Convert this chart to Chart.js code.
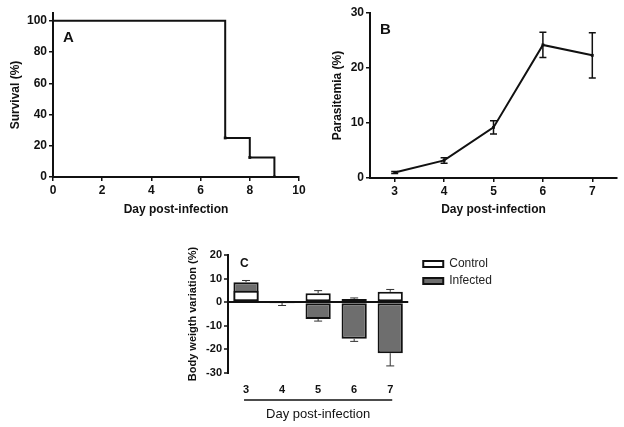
<!DOCTYPE html>
<html lang="en">
<head>
    <meta charset="UTF-8">
    <title>Survival, parasitemia and body weight</title>
    <script src="https://cdn.jsdelivr.net/npm/chart.js@4.4.1/dist/chart.umd.min.js"></script>
    <style>
        body {
            margin: 0;
            background: #ffffff;
            width: 624px;
            height: 427px;
            position: relative;
            overflow: hidden;
        }
        .panel {
            position: absolute;
        }
    </style>
</head>
<body>
    <div class="panel" style="left:0;top:0;width:312px;height:220px;"><canvas id="survivalChart"></canvas></div>
    <div class="panel" style="left:312px;top:0;width:312px;height:220px;"><canvas id="parasitemiaChart"></canvas></div>
    <div class="panel" style="left:160px;top:240px;width:340px;height:187px;"><canvas id="weightChart"></canvas></div>

    <script>
        // Panel A: survival curve
        const survivalDays = [0, 7, 8, 9];
        const survivalPct = [100, 25, 12.5, 0];
        const survivalTicks = [0, 20, 40, 60, 80, 100];

        // Panel B: parasitemia (mean, SEM)
        const parasDays = [3, 4, 5, 6, 7];
        const parasMean = [1.0, 3.2, 9.2, 24.2, 22.3];
        const parasErr = [0.2, 0.5, 1.2, 2.3, 4.1];

        // Panel C: body weight variation
        const weightDays = ['3', '4', '5', '6', '7'];
        const controlMean = [4.9, 0, 3.8, 1.4, 4.4];
        const controlErr = [0, 0, 1.1, 0.4, 1.0];
        const infectedMean = [8.5, -0.3, -7.1, -15.5, -21.6];
        const infectedErr = [0.7, 1.1, 0.9, 1.1, 5.4];

        const FONT = "'Liberation Sans', Arial, sans-serif";
        Chart.defaults.font.family = FONT;
        Chart.defaults.color = '#111';
        Chart.defaults.animation = false;

        const panelLabel = {
            id: 'panelLabel',
            afterDraw(chart, args, opts) {
                const { ctx, chartArea } = chart;
                ctx.save();
                ctx.font = 'bold ' + opts.size + 'px ' + FONT;
                ctx.fillStyle = '#111';
                ctx.textAlign = 'left';
                ctx.textBaseline = 'middle';
                ctx.fillText(opts.text, chartArea.left + opts.dx, chartArea.top + opts.dy);
                ctx.restore();
            }
        };

        const errorBars = {
            id: 'errorBars',
            afterDatasetsDraw(chart, args, opts) {
                const ctx = chart.ctx;
                const yScale = chart.scales.y;
                chart.data.datasets.forEach((ds, i) => {
                    if (!ds.errors) return;
                    const meta = chart.getDatasetMeta(i);
                    ctx.save();
                    ctx.strokeStyle = opts.color;
                    ctx.lineWidth = opts.width;
                    meta.data.forEach((el, j) => {
                        const raw = ds.data[j];
                        const v = typeof raw === 'object' ? raw.y : raw;
                        const e = ds.errors[j];
                        if (!e) return;
                        let ends;
                        if (opts.mode === 'away') {
                            ends = [v + (v < 0 ? -e : e)];
                        } else {
                            ends = [v + e, v - e];
                        }
                        const y0 = yScale.getPixelForValue(v);
                        ends.forEach(end => {
                            const y1 = yScale.getPixelForValue(end);
                            ctx.beginPath();
                            ctx.moveTo(el.x, y0);
                            ctx.lineTo(el.x, y1);
                            ctx.moveTo(el.x - opts.cap, y1);
                            ctx.lineTo(el.x + opts.cap, y1);
                            ctx.stroke();
                        });
                    });
                    ctx.restore();
                });
            }
        };

        const axisUnderline = {
            id: 'axisUnderline',
            afterDraw(chart, args, opts) {
                const x = chart.scales.x;
                const { ctx, chartArea } = chart;
                const y = chartArea.bottom + opts.gap;
                ctx.save();
                ctx.strokeStyle = '#111';
                ctx.lineWidth = 1.5;
                ctx.beginPath();
                ctx.moveTo(x.getPixelForValue(0) - 2, y);
                ctx.lineTo(x.getPixelForValue(weightDays.length - 1) + 2, y);
                ctx.stroke();
                ctx.restore();
            }
        };

        const legendNudge = {
            id: 'legendNudge',
            afterLayout(chart, args, opts) {
                const lg = chart.legend;
                if (!lg) return;
                lg.left += opts.dx; lg.right += opts.dx;
                lg.top += opts.dy; lg.bottom += opts.dy;
            }
        };

        function prismAxis(extra) {
            return Object.assign({
                border: { display: true, color: '#111', width: 2 },
                grid: { drawOnChartArea: false, color: '#111', tickColor: '#111', tickLength: 4, lineWidth: 1.5 },
                ticks: { color: '#111', padding: 2, font: { size: 12, weight: 'bold' } }
            }, extra);
        }

        // Panel A
        new Chart(document.getElementById('survivalChart'), {
            type: 'line',
            data: {
                datasets: [{
                    data: survivalDays.map((d, i) => ({ x: d, y: survivalPct[i] })),
                    borderColor: '#111',
                    borderWidth: 2,
                    stepped: true,
                    pointStyle: 'rect',
                    pointRadius: survivalDays.map((d, i) => i === 0 ? 0 : 2),
                    pointBackgroundColor: '#111',
                    pointBorderWidth: 0
                }]
            },
            options: {
                responsive: true,
                maintainAspectRatio: false,
                layout: { padding: { top: 13, right: 13, left: 0, bottom: 0 } },
                plugins: {
                    legend: { display: false },
                    tooltip: { enabled: false },
                    panelLabel: { text: 'A', dx: 10, dy: 25, size: 15 }
                },
                scales: {
                    x: prismAxis({
                        type: 'linear', min: 0, max: 10,
                        ticks: { stepSize: 2, color: '#111', padding: 2, font: { size: 12, weight: 'bold' } },
                        title: { display: true, text: 'Day post-infection', color: '#111', padding: { top: 0, bottom: 3 }, font: { size: 12, weight: 'bold' } },
                        afterFit: s => { s.height = 43; }
                    }),
                    y: prismAxis({
                        min: 0, max: 105,
                        ticks: { stepSize: 20, color: '#111', padding: 2, font: { size: 12, weight: 'bold' } },
                        afterBuildTicks: s => { s.ticks = survivalTicks.map(v => ({ value: v })); },
                        title: { display: true, text: 'Survival (%)', color: '#111', padding: { top: 8, bottom: 0 }, font: { size: 12, weight: 'bold' } },
                        afterFit: s => { s.width = 53; }
                    })
                }
            },
            plugins: [panelLabel]
        });

        // Panel B
        new Chart(document.getElementById('parasitemiaChart'), {
            type: 'line',
            data: {
                datasets: [{
                    data: parasDays.map((d, i) => ({ x: d, y: parasMean[i] })),
                    errors: parasErr,
                    borderColor: '#111',
                    borderWidth: 2,
                    pointStyle: 'rect',
                    pointRadius: 2,
                    pointBackgroundColor: '#111',
                    pointBorderWidth: 0
                }]
            },
            options: {
                responsive: true,
                maintainAspectRatio: false,
                layout: { padding: { top: 13, right: 7, left: 0, bottom: 0 } },
                plugins: {
                    legend: { display: false },
                    tooltip: { enabled: false },
                    panelLabel: { text: 'B', dx: 10, dy: 17, size: 15 },
                    errorBars: { mode: 'both', color: '#111', width: 1.5, cap: 3.5 }
                },
                scales: {
                    x: prismAxis({
                        type: 'linear', min: 2.5, max: 7.5,
                        afterBuildTicks: s => { s.ticks = parasDays.map(v => ({ value: v })); },
                        title: { display: true, text: 'Day post-infection', color: '#111', padding: { top: 0, bottom: 3 }, font: { size: 12, weight: 'bold' } },
                        afterFit: s => { s.height = 42; }
                    }),
                    y: prismAxis({
                        min: 0, max: 30,
                        ticks: { stepSize: 10, color: '#111', padding: 2, font: { size: 12, weight: 'bold' } },
                        title: { display: true, text: 'Parasitemia (%)', color: '#111', padding: { top: 18, bottom: 0 }, font: { size: 12, weight: 'bold' } },
                        afterFit: s => { s.width = 58; }
                    })
                }
            },
            plugins: [panelLabel, errorBars]
        });

        // Panel C
        new Chart(document.getElementById('weightChart'), {
            type: 'bar',
            data: {
                labels: weightDays,
                datasets: [{
                    label: 'Control',
                    data: controlMean,
                    errors: controlErr,
                    backgroundColor: '#ffffff',
                    borderColor: '#111',
                    borderWidth: 2,
                    borderSkipped: false
                }, {
                    label: 'Infected',
                    data: infectedMean,
                    errors: infectedErr,
                    backgroundColor: '#6e6e6e',
                    borderColor: '#111',
                    borderWidth: 2,
                    borderSkipped: false
                }]
            },
            options: {
                responsive: true,
                maintainAspectRatio: false,
                grouped: false,
                categoryPercentage: 1,
                barPercentage: 0.7,
                layout: { padding: { top: 15, right: 9, left: 0, bottom: 0 } },
                plugins: {
                    legend: {
                        position: 'right',
                        align: 'start',
                        labels: { boxWidth: 20, boxHeight: 6, padding: 5, color: '#222', font: { size: 12 } }
                    },
                    legendNudge: { dx: 10, dy: -2 },
                    tooltip: { enabled: false },
                    panelLabel: { text: 'C', dx: 12, dy: 9, size: 12 },
                    errorBars: { mode: 'away', color: '#333', width: 1, cap: 4 },
                    axisUnderline: { gap: 27 }
                },
                scales: {
                    x: {
                        border: { display: false },
                        grid: { display: false, drawTicks: false },
                        ticks: { color: '#111', padding: 10, font: { size: 11, weight: 'bold' } },
                        title: { display: true, text: 'Day post-infection', color: '#111', padding: { top: 0, bottom: 5 }, font: { size: 13 } },
                        afterFit: s => { s.height = 54; }
                    },
                    y: {
                        min: -30, max: 20,
                        border: { display: true, color: '#111', width: 2 },
                        grid: {
                            drawOnChartArea: true,
                            color: c => c.tick && c.tick.value === 0 ? '#111' : 'rgba(0,0,0,0)',
                            lineWidth: 2,
                            tickColor: '#111',
                            tickLength: 4,
                            tickWidth: 1.5
                        },
                        ticks: { stepSize: 10, color: '#111', padding: 2, font: { size: 11, weight: 'bold' } },
                        title: { display: true, text: 'Body weigth variation (%)', color: '#111', padding: { top: 26, bottom: 0 }, font: { size: 11, weight: 'bold' } },
                        afterFit: s => { s.width = 68; }
                    }
                }
            },
            plugins: [panelLabel, errorBars, axisUnderline, legendNudge]
        });
    </script>
</body>
</html>
